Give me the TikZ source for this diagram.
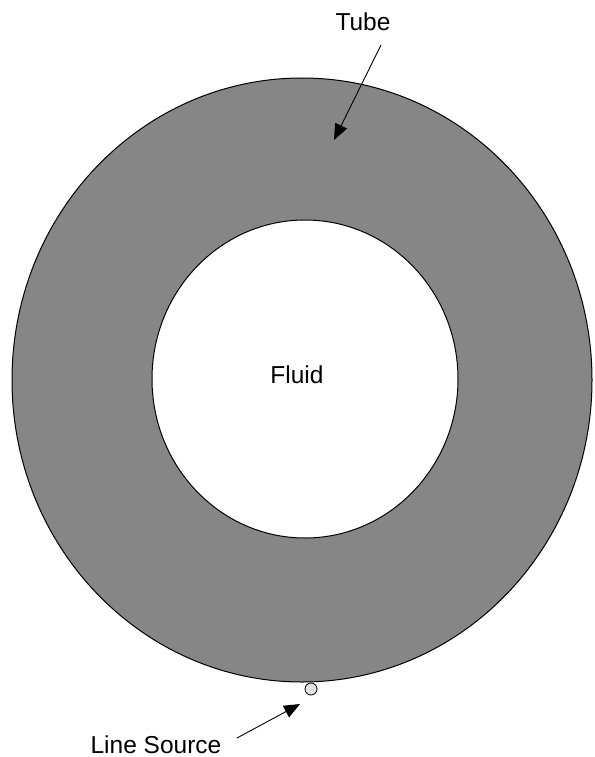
\documentclass[tikz,border=0pt]{standalone}
\usepackage{fontspec}
\setmainfont{Liberation Sans}
\definecolor{tubegray}{RGB}{134,134,134}
\definecolor{sourcegray}{RGB}{226,226,226}
\usetikzlibrary{arrows.meta, positioning}

\begin{document}
\begin{tikzpicture}[
    x=1pt, y=-1pt,
    tube/.style={
      draw=black,
      fill=tubegray,
      line width=1pt
    },
    fluid/.style={
      draw=black,
      fill=white,
      line width=1pt
    },
    txt/.style={
      font=\fontsize{24.5}{29}\selectfont,
      inner sep=0pt
    },
    arrow/.style={
      -{Triangle[length=16pt,width=13pt]},
      line width=0.9pt,
      draw=black
    }
  ]

    \useasboundingbox (0,0) rectangle (594,757);

    % Tube wall and fluid core
    \draw [tube] (302,380) ellipse [x radius=290, y radius=302];
    \draw [fluid] (305,379) ellipse [x radius=153, y radius=159];

    % Line source on the outer wall
    \draw [fill=sourcegray, line width=0.8pt] (311,689) circle [radius=6];

    % Labels
    \node (tubelabel) [txt] at (363,22) {Tube};
    \node (fluidlabel) [txt] at (297,375) {Fluid};
    \node (sourcelabel) [txt] at (156,745) {Line Source};

    % Pointers
    \coordinate (tubetail) at (381,45);
    \coordinate (tubetip) at (334,140);
    \coordinate (sourcetail) at (237,738);
    \coordinate (sourcetip) at (300,704);
    \draw [arrow] (tubetail) -- (tubetip);
    \draw [arrow] (sourcetail) -- (sourcetip);

  \end{tikzpicture}
\end{document}
